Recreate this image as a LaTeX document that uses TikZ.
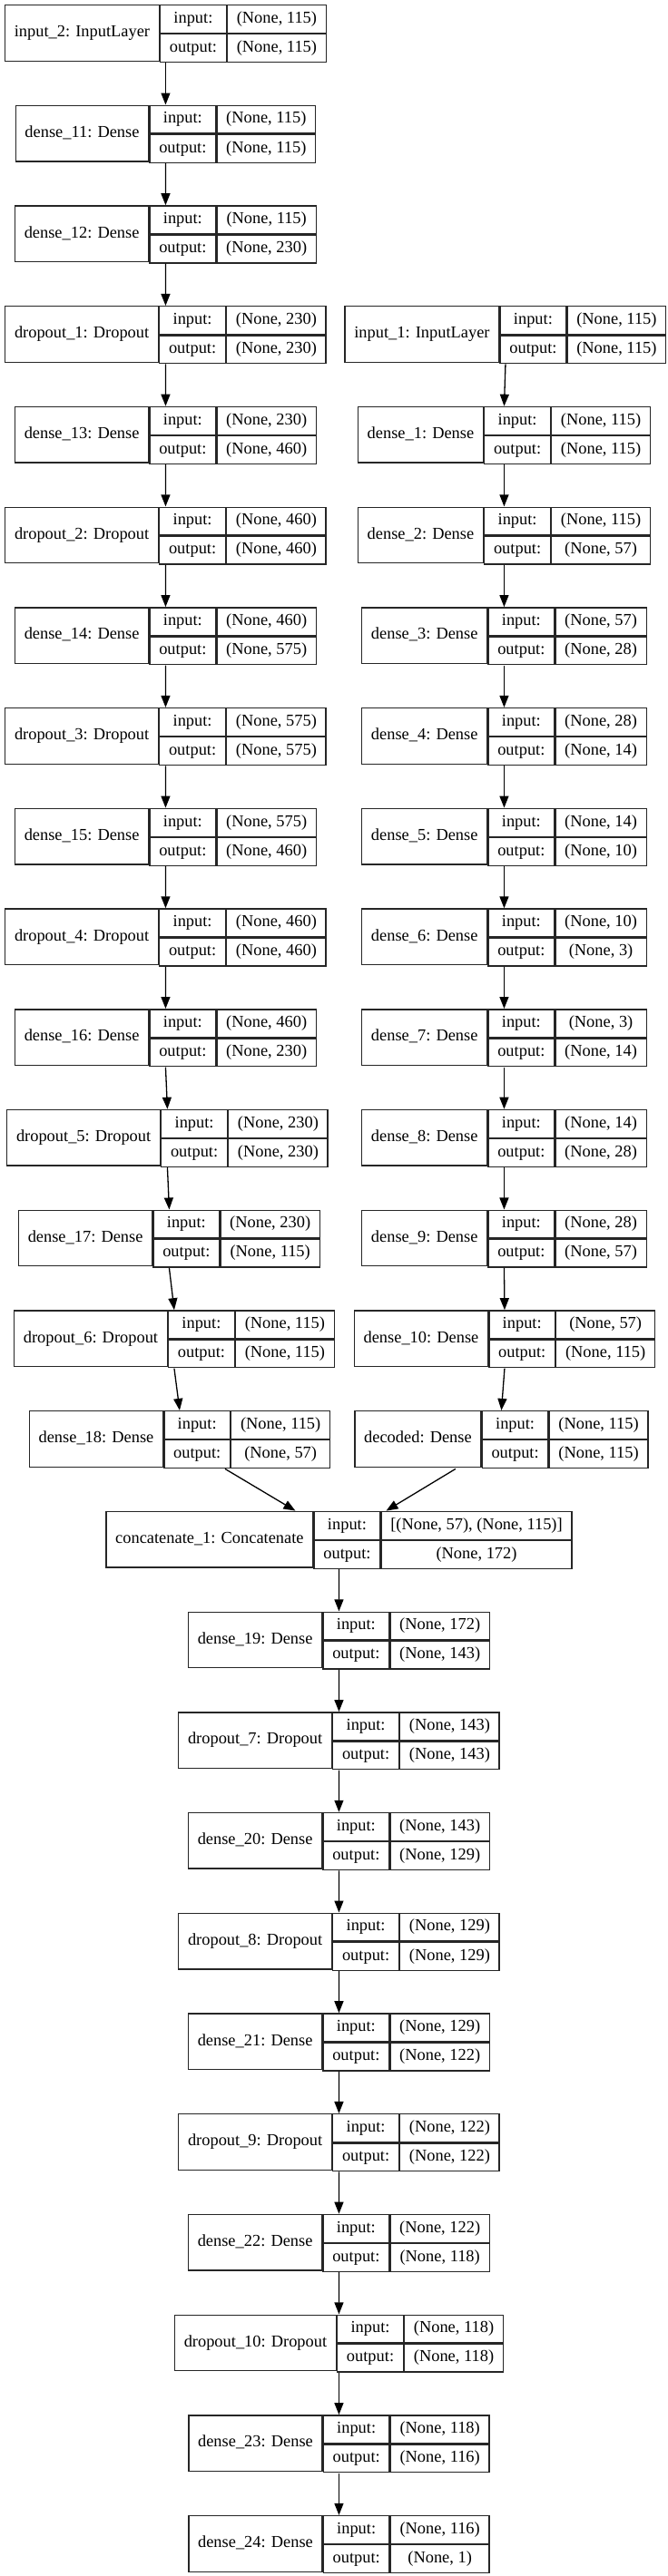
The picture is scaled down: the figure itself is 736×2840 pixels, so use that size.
\documentclass[tikz,border=0pt]{standalone}
\usepackage{fontspec}
\setmainfont{Liberation Serif}
\usetikzlibrary{arrows.meta,fit}

\newcommand\lfont{\normalfont\fontsize{18.4}{22}\selectfont}
\tikzset{
  cell/.style={draw=black!85, line width=1.3pt, inner sep=0pt, anchor=north west,
    font=\lfont, text height=13pt, text depth=4.5pt},
  link/.style={-{Triangle[length=13pt,width=10pt]}, line width=1.3pt},
}

\newdimen\labw
\newdimen\iow
\newdimen\shw
\newsavebox\measbox
\newcommand\cpad{20.5pt}
% width of a text in the label font, plus padding
\newcommand\measure[2]{%
  \pgfinterruptpicture\global\setbox\measbox=\hbox{\lfont #2}\endpgfinterruptpicture
  \ifdim\wd\measbox>#1 #1=\wd\measbox\fi}
% \layer{name}{center x}{row}{label}{input shape}{output shape}
\newcommand\layer[6]{%
  \labw=0pt \measure\labw{#4}\advance\labw by \cpad
  \iow=0pt \measure\iow{output:}\advance\iow by \cpad
  \shw=0pt \measure\shw{#5}\measure\shw{#6}\advance\shw by \cpad
  \pgfmathsetmacro\lx{#2-(\labw+\iow+\shw)/2}%
  \pgfmathsetmacro\ty{5+#3*110.72}%
  \node[cell, minimum width=\labw, minimum height=61.5pt] (#1-l) at (\lx,\ty) {#4};
  \node[cell, minimum width=\iow, minimum height=30.75pt] (#1-i) at (#1-l.north east) {input:};
  \node[cell, minimum width=\iow, minimum height=30.75pt] (#1-o) at (#1-i.south west) {output:};
  \node[cell, minimum width=\shw, minimum height=30.75pt] (#1-si) at (#1-i.north east) {#5};
  \node[cell, minimum width=\shw, minimum height=30.75pt] (#1-so) at (#1-si.south west) {#6};
  \node[fit=(#1-l)(#1-so), inner sep=0pt] (#1) {};
}

\begin{document}
\begin{tikzpicture}[x=1pt, y=-1pt]
\useasboundingbox (0,0) rectangle (736,2840);

% left branch
\layer{input2}{180.5}{0}{input\_2: InputLayer}{(None, 115)}{(None, 115)}
\layer{dense11}{180.5}{1}{dense\_11: Dense}{(None, 115)}{(None, 115)}
\layer{dense12}{180.5}{2}{dense\_12: Dense}{(None, 115)}{(None, 230)}
\layer{drop1}{180.5}{3}{dropout\_1: Dropout}{(None, 230)}{(None, 230)}
\layer{dense13}{180.5}{4}{dense\_13: Dense}{(None, 230)}{(None, 460)}
\layer{drop2}{180.5}{5}{dropout\_2: Dropout}{(None, 460)}{(None, 460)}
\layer{dense14}{180.5}{6}{dense\_14: Dense}{(None, 460)}{(None, 575)}
\layer{drop3}{180.5}{7}{dropout\_3: Dropout}{(None, 575)}{(None, 575)}
\layer{dense15}{180.5}{8}{dense\_15: Dense}{(None, 575)}{(None, 460)}
\layer{drop4}{180.5}{9}{dropout\_4: Dropout}{(None, 460)}{(None, 460)}
\layer{dense16}{180.5}{10}{dense\_16: Dense}{(None, 460)}{(None, 230)}
\layer{drop5}{182.5}{11}{dropout\_5: Dropout}{(None, 230)}{(None, 230)}
\layer{dense17}{184.5}{12}{dense\_17: Dense}{(None, 230)}{(None, 115)}
\layer{drop6}{190}{13}{dropout\_6: Dropout}{(None, 115)}{(None, 115)}
\layer{dense18}{196}{14}{dense\_18: Dense}{(None, 115)}{(None, 57)}

% right branch
\layer{input1}{555}{3}{input\_1: InputLayer}{(None, 115)}{(None, 115)}
\layer{dense1}{553.5}{4}{dense\_1: Dense}{(None, 115)}{(None, 115)}
\layer{dense2}{553.5}{5}{dense\_2: Dense}{(None, 115)}{(None, 57)}
\layer{dense3}{553.5}{6}{dense\_3: Dense}{(None, 57)}{(None, 28)}
\layer{dense4}{553.5}{7}{dense\_4: Dense}{(None, 28)}{(None, 14)}
\layer{dense5}{553.5}{8}{dense\_5: Dense}{(None, 14)}{(None, 10)}
\layer{dense6}{553.5}{9}{dense\_6: Dense}{(None, 10)}{(None, 3)}
\layer{dense7}{553.5}{10}{dense\_7: Dense}{(None, 3)}{(None, 14)}
\layer{dense8}{553.5}{11}{dense\_8: Dense}{(None, 14)}{(None, 28)}
\layer{dense9}{553.5}{12}{dense\_9: Dense}{(None, 28)}{(None, 57)}
\layer{dense10}{554}{13}{dense\_10: Dense}{(None, 57)}{(None, 115)}
\layer{decoded}{550.5}{14}{decoded: Dense}{(None, 115)}{(None, 115)}

% merged trunk
\layer{concat}{371.5}{15}{concatenate\_1: Concatenate}{[(None, 57), (None, 115)]}{(None, 172)}
\layer{dense19}{371.5}{16}{dense\_19: Dense}{(None, 172)}{(None, 143)}
\layer{drop7}{371.5}{17}{dropout\_7: Dropout}{(None, 143)}{(None, 143)}
\layer{dense20}{371.5}{18}{dense\_20: Dense}{(None, 143)}{(None, 129)}
\layer{drop8}{371.5}{19}{dropout\_8: Dropout}{(None, 129)}{(None, 129)}
\layer{dense21}{371.5}{20}{dense\_21: Dense}{(None, 129)}{(None, 122)}
\layer{drop9}{371.5}{21}{dropout\_9: Dropout}{(None, 122)}{(None, 122)}
\layer{dense22}{371.5}{22}{dense\_22: Dense}{(None, 122)}{(None, 118)}
\layer{drop10}{371.5}{23}{dropout\_10: Dropout}{(None, 118)}{(None, 118)}
\layer{dense23}{371.5}{24}{dense\_23: Dense}{(None, 118)}{(None, 116)}
\layer{dense24}{371.5}{25}{dense\_24: Dense}{(None, 116)}{(None, 1)}

% connections
\foreach \a/\b in {input2/dense11, dense11/dense12, dense12/drop1, drop1/dense13,
    dense13/drop2, drop2/dense14, dense14/drop3, drop3/dense15, dense15/drop4,
    drop4/dense16, dense16/drop5, drop5/dense17, dense17/drop6, drop6/dense18,
    input1/dense1, dense1/dense2, dense2/dense3, dense3/dense4, dense4/dense5,
    dense5/dense6, dense6/dense7, dense7/dense8, dense8/dense9, dense9/dense10,
    dense10/decoded,
    concat/dense19, dense19/drop7, drop7/dense20, dense20/drop8, drop8/dense21,
    dense21/drop9, drop9/dense22, dense22/drop10, drop10/dense23, dense23/dense24}
  \draw[link] (\a.south) -- (\b.north);
\draw[link] ([xshift=50pt]dense18.south) -- ([xshift=-48pt]concat.north);
\draw[link] ([xshift=-50.5pt]decoded.south) -- ([xshift=52pt]concat.north);
\end{tikzpicture}
\end{document}
